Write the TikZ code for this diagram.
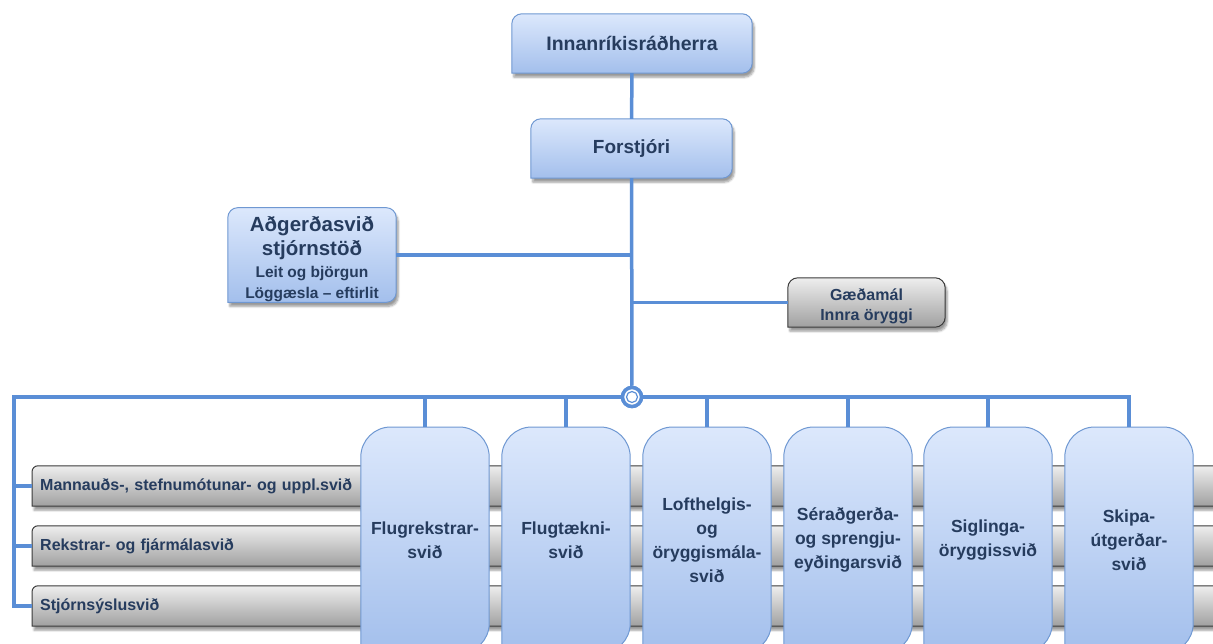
\documentclass[tikz,border=0pt]{standalone}
\usepackage{fontspec}
\setmainfont{Liberation Sans}
\usetikzlibrary{backgrounds,shadows.blur}

\definecolor{letur}{HTML}{263C5E}
\definecolor{lina}{HTML}{5A8ED6}
\definecolor{blarammi}{HTML}{6F98D2}
\definecolor{blaupp}{HTML}{DCE8FC}
\definecolor{blanidur}{HTML}{A3BFEC}
\definecolor{graupp}{HTML}{EEEEEE}
\definecolor{granidur}{HTML}{A0A0A0}
\definecolor{grarammi}{HTML}{3A3A3A}

\newcommand\smaletur{\fontsize{15.5}{18}\selectfont}

\tikzset{
  texti/.style={text=letur, inner sep=0pt, align=center},
  yfir/.style={texti, font=\bfseries\fontsize{19}{23}\selectfont},
  svid/.style={texti, font=\bfseries\fontsize{17.5}{24}\selectfont,
    minimum width=128pt, minimum height=226pt, anchor=north},
  grastika/.style={texti, font=\bfseries\fontsize{16}{19}\selectfont,
    anchor=west, align=left, text width=1180pt, inner xsep=8pt, minimum height=40pt},
  blarform/.style={draw=blarammi, line width=1pt, top color=blaupp, bottom color=blanidur},
  graform/.style={draw=grarammi, line width=1pt, top color=graupp, bottom color=granidur},
  skuggi/.style={blur shadow={shadow xshift=2pt, shadow yshift=-4pt, shadow blur steps=6, shadow opacity=40}},
  tengi/.style={draw=lina, line width=3.5pt},
  midja/.style={circle, draw=lina, line width=3.5pt, fill=white, minimum size=19pt, inner sep=0pt},
}

\begin{document}
\begin{tikzpicture}[x=1pt,y=-1pt]
  \useasboundingbox (0,0) rectangle (1213,644);

  % efsta lag
  \node[yfir, font=\bfseries\fontsize{19.5}{23}\selectfont, minimum width=240pt, minimum height=59pt] (radherra) at (632,43.5) {Innanríkisráðherra};
  \node[yfir, minimum width=201pt, minimum height=59pt] (forstjori) at (631.5,148.5) {Forstjóri};
  \node[yfir, font=\bfseries\fontsize{20.5}{24}\selectfont, minimum width=168pt, minimum height=94pt] (adgerdir) at (312,255)
    {\rule{0pt}{24pt}Aðgerðasvið\\stjórnstöð\\[-2pt]\smaletur Leit og björgun\\[-3pt]\smaletur Löggæsla – eftirlit};
  \node[texti, font=\bfseries\fontsize{16}{20}\selectfont, minimum width=157pt, minimum height=49pt] (gaedi) at (866.5,302.5)
    {\rule{0pt}{19pt}Gæðamál\\Innra öryggi};
  \node[midja] (hub) at (632,397) {};
  \coordinate (vinstri) at (14,397);

  % grar stikur
  \node[grastika] (mannaud) at (32,486) {Mannauðs-, stefnumótunar- og uppl.svið};
  \node[grastika] (rekstur) at (32,546) {Rekstrar- og fjármálasvið};
  \node[grastika] (stjorn) at (32,606) {Stjórnsýslusvið};

  % svid
  \node[svid] (flugrekstur) at (425,427) {Flugrekstrar-\\svið};
  \node[svid] (flugtaekni) at (566,427) {Flugtækni-\\svið};
  \node[svid] (lofthelgi) at (707,427) {Lofthelgis-\\og\\öryggismála-\\svið};
  \node[svid] (seradgerdir) at (848,427) {Séraðgerða-\\og sprengju-\\eyðingarsvið};
  \node[svid] (siglingar) at (988,427) {Siglinga-\\öryggissvið};
  \node[svid] (skip) at (1129,427) {Skipa-\\útgerðar-\\svið};

  \begin{pgfonlayer}{background}
    \foreach \n in {mannaud,rekstur,stjorn}
      \draw[graform, skuggi] (\n.south west) [rounded corners=6pt] |- (\n.north east) [sharp corners] -- (\n.south east) -- cycle;
    \foreach \n in {radherra,forstjori,adgerdir}
      \draw[blarform, skuggi] (\n.south west) [rounded corners=10pt] |- (\n.north) -| (\n.south east) [sharp corners] -- cycle;
    \draw[graform, skuggi] (gaedi.south west) [rounded corners=10pt] |- (gaedi.north) -| (gaedi.south east) [sharp corners] -- cycle;
    \foreach \n in {flugrekstur,flugtaekni,lofthelgi,seradgerdir,siglingar,skip}
      \draw[blarform] (\n.south west) [rounded corners=30pt] |- (\n.north) -| (\n.south east) [sharp corners] -- cycle;
  \end{pgfonlayer}

  % tengingar
  \draw[tengi] (radherra) -- (forstjori);
  \draw[tengi] (forstjori) -- (hub);
  \draw[tengi] (adgerdir.east) -- (adgerdir.east -| hub);
  \draw[tengi] (gaedi.west -| hub) -- (gaedi.west);
  \draw[tengi] (hub.west) -- (vinstri) |- (stjorn.west);
  \draw[tengi] (vinstri |- mannaud.west) -- (mannaud.west);
  \draw[tengi] (vinstri |- rekstur.west) -- (rekstur.west);
  \draw[tengi] (hub.east) -| (skip.north);
  \foreach \n in {flugrekstur,flugtaekni,lofthelgi,seradgerdir,siglingar}
    \draw[tengi] (\n.north |- hub) -- (\n.north);
  \node[midja] at (hub) {};
  \draw[draw=lina, line width=1.2pt] (hub.center) circle (5.5pt);

\end{tikzpicture}
\end{document}
